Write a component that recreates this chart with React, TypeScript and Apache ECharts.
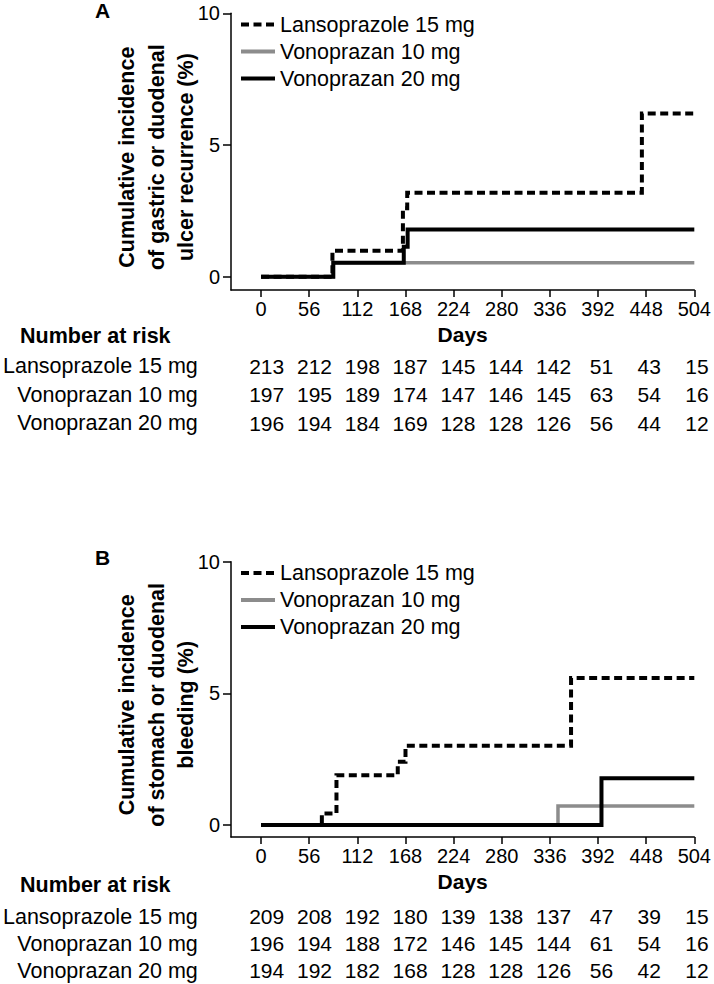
import React, { useEffect, useRef } from 'react';
import * as echarts from 'echarts';

// ---------- data ----------
const TICK_DAYS = [0, 56, 112, 168, 224, 280, 336, 392, 448, 504];
const Y_TICKS = [0, 5, 10];
const ARMS = ['Lansoprazole 15 mg', 'Vonoprazan 10 mg', 'Vonoprazan 20 mg'];

// Panel A: cumulative incidence of gastric or duodenal ulcer recurrence (%) — [day, %]
const A_LANSO: [number, number][] = [[0, 0], [83, 0.99], [165, 2.6], [170, 3.19], [443, 6.2], [504, 6.2]];
const A_VONO10: [number, number][] = [[0, 0], [84, 0.53], [504, 0.53]];
const A_VONO20: [number, number][] = [[0, 0], [84, 0.53], [166, 1.14], [170.5, 1.8], [504, 1.8]];

// Panel B: cumulative incidence of stomach or duodenal bleeding (%) — [day, %]
const B_LANSO: [number, number][] = [[0, 0], [70.7, 0.44], [87.7, 1.89], [159, 2.4], [168, 3.01], [360.6, 5.58], [504, 5.58]];
const B_VONO10: [number, number][] = [[0, 0], [345.4, 0.72], [504, 0.72]];
const B_VONO20: [number, number][] = [[0, 0], [396, 1.78], [504, 1.78]];

// Numbers at risk
const A_RISK_LANSO = [213, 212, 198, 187, 145, 144, 142, 51, 43, 15];
const A_RISK_VONO10 = [197, 195, 189, 174, 147, 146, 145, 63, 54, 16];
const A_RISK_VONO20 = [196, 194, 184, 169, 128, 128, 126, 56, 44, 12];
const B_RISK_LANSO = [209, 208, 192, 180, 139, 138, 137, 47, 39, 15];
const B_RISK_VONO10 = [196, 194, 188, 172, 146, 145, 144, 61, 54, 16];
const B_RISK_VONO20 = [194, 192, 182, 168, 128, 128, 126, 56, 42, 12];

const A_YTITLE = 'Cumulative incidence\nof gastric or duodenal\nulcer recurrence (%)';
const B_YTITLE = 'Cumulative incidence\nof stomach or duodenal\nbleeding (%)';

// ---------- styling ----------
const FONT = '"Liberation Sans", Arial, Helvetica, sans-serif';
const BLACK = '#000000';
const GRAY = '#8c8c8c';
const X_MIN = -35;
const X_MAX = 504;
const GRID_LEFT = 231;
const GRID_WIDTH = 466;

function plotXAxis(gridIndex: number) {
  return {
    type: 'value',
    gridIndex,
    min: X_MIN,
    max: X_MAX,
    name: 'Days',
    nameLocation: 'middle',
    nameGap: 34,
    nameMoveOverlap: false,
    nameTextStyle: { fontFamily: FONT, fontSize: 21, fontWeight: 'bold', color: BLACK },
    axisLine: { show: true, onZero: false, lineStyle: { color: BLACK, width: 1.5 } },
    axisTick: { show: true, length: 7, lineStyle: { color: BLACK, width: 1.5 }, customValues: TICK_DAYS },
    axisLabel: { show: true, customValues: TICK_DAYS, fontFamily: FONT, fontSize: 20, color: BLACK, margin: 9 },
    splitLine: { show: false },
  };
}

function plotYAxis(gridIndex: number, min: number, title: string) {
  return {
    type: 'value',
    gridIndex,
    min,
    max: 10,
    name: title,
    nameLocation: 'middle',
    nameRotate: 90,
    nameGap: 30,
    nameMoveOverlap: false,
    nameTextStyle: {
      fontFamily: FONT, fontSize: 21.5, fontWeight: 'bold', color: BLACK, lineHeight: 29.5, align: 'center',
      padding: [0, 11, 0, 0],
    },
    axisLine: { show: true, onZero: false, lineStyle: { color: BLACK, width: 1.5 } },
    axisTick: { show: true, length: 8, lineStyle: { color: BLACK, width: 1.5 }, customValues: Y_TICKS },
    axisLabel: { show: true, customValues: Y_TICKS, fontFamily: FONT, fontSize: 20, color: BLACK, margin: 11 },
    splitLine: { show: false },
  };
}

function riskXAxis(gridIndex: number) {
  return { type: 'value', gridIndex, min: X_MIN, max: X_MAX, show: false };
}

function riskYAxis(gridIndex: number) {
  return {
    type: 'category',
    gridIndex,
    data: ARMS,
    inverse: true,
    axisLine: { show: false },
    axisTick: { show: false },
    splitLine: { show: false },
    axisLabel: { show: true, interval: 0, hideOverlap: false, fontFamily: FONT, fontSize: 21.5, color: BLACK, margin: 39 },
  };
}

function kmSeries(name: string, data: [number, number][], axisIndex: number, color: string, width: number, dashed: boolean, z: number) {
  return {
    type: 'line',
    name,
    xAxisIndex: axisIndex,
    yAxisIndex: axisIndex,
    step: 'end',
    symbol: 'none',
    data,
    z,
    lineStyle: { color, width, type: dashed ? [8, 4.5] : 'solid', cap: 'butt', join: 'miter' },
    itemStyle: { color },
    emphasis: { disabled: true },
  };
}

function riskSeries(axisIndex: number, rows: number[][]) {
  const data: number[][] = [];
  rows.forEach((counts, r) => {
    counts.forEach((c, i) => {
      data.push([TICK_DAYS[i], r, c]);
    });
  });
  return {
    type: 'scatter',
    xAxisIndex: axisIndex,
    yAxisIndex: axisIndex,
    data,
    symbolSize: 1,
    itemStyle: { color: 'rgba(0,0,0,0)' },
    label: {
      show: true,
      position: 'inside',
      formatter: (p: any) => String(p.value[2]),
      fontFamily: FONT,
      fontSize: 21,
      color: BLACK,
      textBorderWidth: 0,
      textBorderColor: 'transparent',
      opacity: 1,
    },
    labelLayout: { hideOverlap: false },
    emphasis: { disabled: true },
    silent: true,
  };
}

function legendAt(top: number) {
  return {
    data: ARMS,
    orient: 'vertical',
    left: 239,
    top,
    padding: 0,
    itemWidth: 34,
    itemHeight: 14,
    itemGap: 5,
    selectedMode: false,
    itemStyle: { opacity: 0 },
    lineStyle: { width: 4 },
    textStyle: { fontFamily: FONT, fontSize: 21.5, color: BLACK, lineHeight: 21 },
  };
}

export default function App() {
  const ref = useRef<HTMLDivElement>(null);

  useEffect(() => {
    if (!ref.current) return;
    const chart = echarts.init(ref.current, undefined, { renderer: 'svg' });
    const option: any = {
      animation: false,
      backgroundColor: '#ffffff',
      grid: [
        { left: GRID_LEFT, width: GRID_WIDTH, top: 13.3, height: 276.7 },
        { left: GRID_LEFT, width: GRID_WIDTH, top: 351.7, height: 86 },
        { left: GRID_LEFT, width: GRID_WIDTH, top: 561.7, height: 275.2 },
        { left: GRID_LEFT, width: GRID_WIDTH, top: 903, height: 83 },
      ],
      xAxis: [plotXAxis(0), riskXAxis(1), plotXAxis(2), riskXAxis(3)],
      yAxis: [plotYAxis(0, -0.5, A_YTITLE), riskYAxis(1), plotYAxis(2, -0.45, B_YTITLE), riskYAxis(3)],
      legend: [legendAt(13.5), legendAt(562)],
      series: [
        kmSeries(ARMS[1], A_VONO10, 0, GRAY, 3.5, false, 2),
        kmSeries(ARMS[0], A_LANSO, 0, BLACK, 4, true, 3),
        kmSeries(ARMS[2], A_VONO20, 0, BLACK, 4, false, 4),
        riskSeries(1, [A_RISK_LANSO, A_RISK_VONO10, A_RISK_VONO20]),
        kmSeries(ARMS[1], B_VONO10, 2, GRAY, 3.5, false, 2),
        kmSeries(ARMS[0], B_LANSO, 2, BLACK, 4, true, 3),
        kmSeries(ARMS[2], B_VONO20, 2, BLACK, 4, false, 4),
        riskSeries(3, [B_RISK_LANSO, B_RISK_VONO10, B_RISK_VONO20]),
      ],
      graphic: [
        {
          type: 'text', left: 95, top: 0,
          style: { text: 'A', fontFamily: FONT, fontSize: 21, fontWeight: 'bold', fill: BLACK },
        },
        {
          type: 'text', left: 95, top: 547,
          style: { text: 'B', fontFamily: FONT, fontSize: 21, fontWeight: 'bold', fill: BLACK },
        },
        {
          type: 'text', left: 20, top: 325,
          style: { text: 'Number at risk', fontFamily: FONT, fontSize: 21.5, fontWeight: 'bold', fill: BLACK },
        },
        {
          type: 'text', left: 20, top: 874,
          style: { text: 'Number at risk', fontFamily: FONT, fontSize: 21.5, fontWeight: 'bold', fill: BLACK },
        },
      ],
    };
    chart.setOption(option);
    return () => {
      chart.dispose();
    };
  }, []);

  return (
    <div
      ref={ref}
      style={{ position: 'absolute', left: 0, top: 0, width: 714, height: 984, background: '#fff' }}
    />
  );
}
